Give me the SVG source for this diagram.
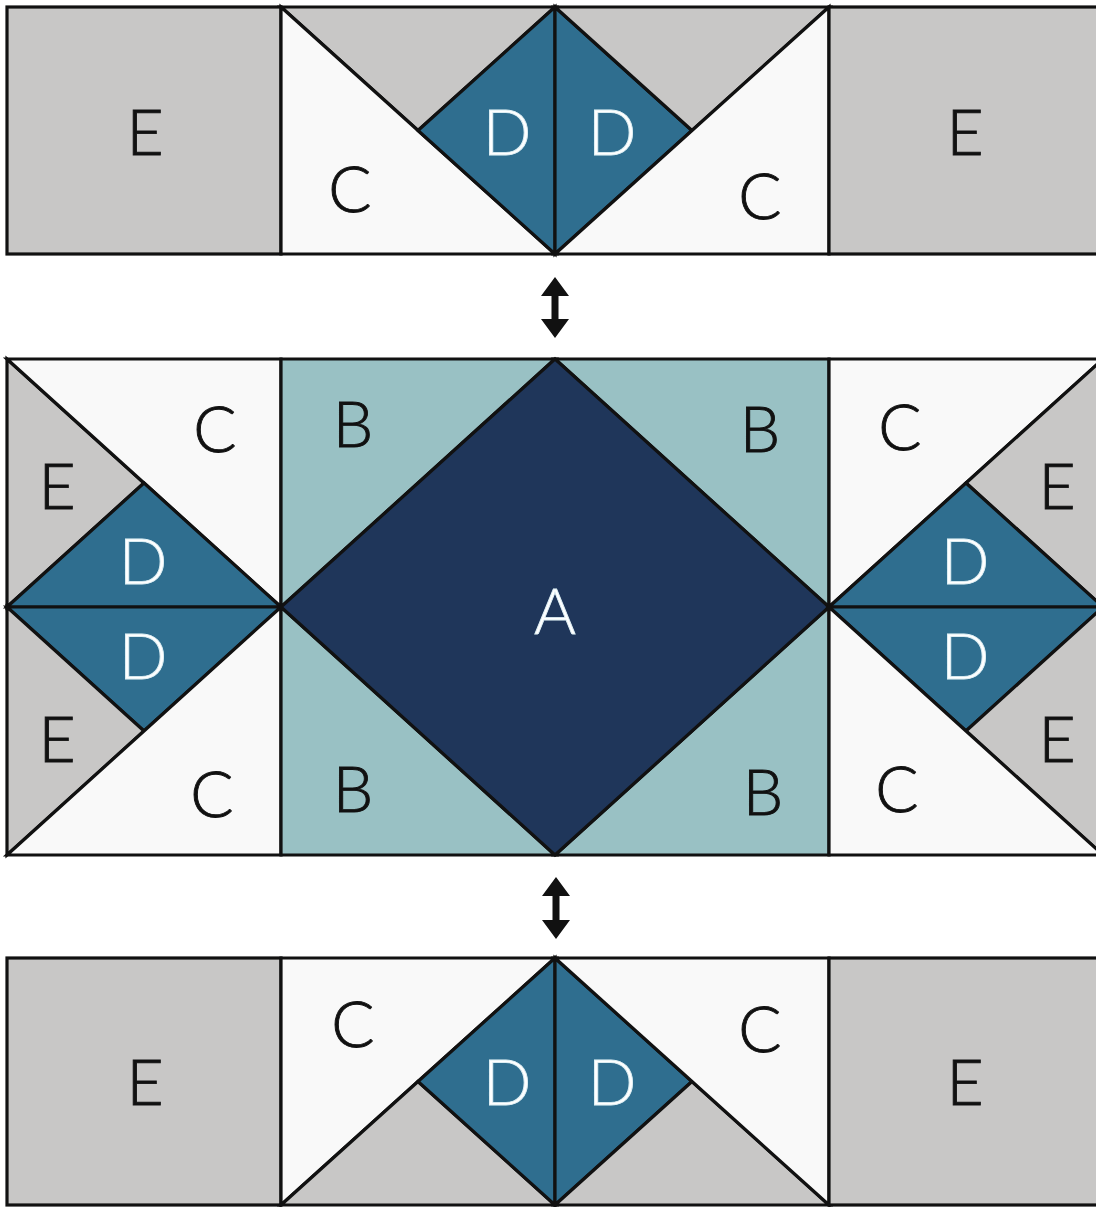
<svg xmlns="http://www.w3.org/2000/svg" width="1096" height="1207" viewBox="0 0 1096 1207">
<style>
.p{stroke:#111;stroke-width:3.2;stroke-linejoin:miter}
.e{fill:#c8c7c6}
.c{fill:#f9f9f9}
.d{fill:#2f6e8f}
.a{fill:#1f365a}
.b{fill:#99c1c4}
text{font-family:"Lato","Liberation Sans",sans-serif;font-size:64px;font-weight:300;text-anchor:middle}
.dk{fill:#111;stroke:#111;stroke-width:0.9}
.lt{fill:#fff;stroke:#dff0f5;stroke-width:0.9}
.arrow{fill:#111}
</style>
<rect width="1096" height="1207" fill="#fff"/>

<!-- TOP ROW -->
<g id="top-E-left"><rect class="p e" x="7" y="7" width="274" height="247"/><text class="dk" x="145" y="155">E</text></g>
<g id="top-gray-left"><polygon class="p e" points="281,7 555,7 418,130.5"/></g>
<g id="top-C-left"><polygon class="p c" points="281,7 418,130.5 555,254 281,254"/><text class="dk" x="350" y="212">C</text></g>
<g id="top-D-left"><polygon class="p d" points="555,7 418,130.5 555,254"/><text class="lt" x="507" y="155">D</text></g>
<g id="top-D-right"><polygon class="p d" points="555,7 692,130.5 555,254"/><text class="lt" x="612" y="155">D</text></g>
<g id="top-gray-right"><polygon class="p e" points="829,7 555,7 692,130.5"/></g>
<g id="top-C-right"><polygon class="p c" points="829,7 692,130.5 555,254 829,254"/><text class="dk" x="760" y="219">C</text></g>
<g id="top-E-right"><rect class="p e" x="829" y="7" width="274" height="247"/><text class="dk" x="965" y="155">E</text></g>

<!-- MIDDLE ROW -->
<g id="mid-E-upper-left"><polygon class="p e" points="7,359 144,483 7,607"/><text class="dk" x="57" y="509">E</text></g>
<g id="mid-C-upper-left"><polygon class="p c" points="7,359 281,359 281,607 144,483"/><text class="dk" x="215" y="452">C</text></g>
<g id="mid-D-upper-left"><polygon class="p d" points="7,607 144,483 281,607"/><text class="lt" x="143" y="584">D</text></g>
<g id="mid-D-lower-left"><polygon class="p d" points="7,607 144,731 281,607"/><text class="lt" x="143" y="679">D</text></g>
<g id="mid-E-lower-left"><polygon class="p e" points="7,855 144,731 7,607"/><text class="dk" x="57" y="762">E</text></g>
<g id="mid-C-lower-left"><polygon class="p c" points="7,855 281,855 281,607 144,731"/><text class="dk" x="212" y="817">C</text></g>

<g id="mid-B-top-left"><polygon class="p b" points="281,359 555,359 281,607"/><text class="dk" x="353" y="447">B</text></g>
<g id="mid-B-top-right"><polygon class="p b" points="555,359 829,359 829,607"/><text class="dk" x="760" y="452">B</text></g>
<g id="mid-B-bottom-left"><polygon class="p b" points="281,607 281,855 555,855"/><text class="dk" x="353" y="812">B</text></g>
<g id="mid-B-bottom-right"><polygon class="p b" points="829,607 829,855 555,855"/><text class="dk" x="763" y="815">B</text></g>
<g id="mid-A"><polygon class="p a" points="555,359 829,607 555,855 281,607"/><text class="lt" x="555" y="634">A</text></g>

<g id="mid-C-upper-right"><polygon class="p c" points="829,359 1103,359 966,483 829,607"/><text class="dk" x="900" y="450">C</text></g>
<g id="mid-E-upper-right"><polygon class="p e" points="1103,359 1103,607 966,483"/><text class="dk" x="1057" y="509">E</text></g>
<g id="mid-D-upper-right"><polygon class="p d" points="829,607 966,483 1103,607"/><text class="lt" x="965" y="584">D</text></g>
<g id="mid-D-lower-right"><polygon class="p d" points="829,607 966,731 1103,607"/><text class="lt" x="965" y="679">D</text></g>
<g id="mid-E-lower-right"><polygon class="p e" points="1103,855 1103,607 966,731"/><text class="dk" x="1057" y="762">E</text></g>
<g id="mid-C-lower-right"><polygon class="p c" points="829,855 1103,855 966,731 829,607"/><text class="dk" x="897" y="812">C</text></g>

<!-- BOTTOM ROW -->
<g id="bot-E-left"><rect class="p e" x="7" y="958" width="274" height="247"/><text class="dk" x="145" y="1105">E</text></g>
<g id="bot-C-left"><polygon class="p c" points="281,958 555,958 418,1081.5 281,1205"/><text class="dk" x="353" y="1047">C</text></g>
<g id="bot-gray-left"><polygon class="p e" points="281,1205 418,1081.5 555,1205"/></g>
<g id="bot-D-left"><polygon class="p d" points="555,958 418,1081.5 555,1205"/><text class="lt" x="507" y="1105">D</text></g>
<g id="bot-D-right"><polygon class="p d" points="555,958 692,1081.5 555,1205"/><text class="lt" x="612" y="1105">D</text></g>
<g id="bot-gray-right"><polygon class="p e" points="829,1205 692,1081.5 555,1205"/></g>
<g id="bot-C-right"><polygon class="p c" points="829,958 555,958 692,1081.5 829,1205"/><text class="dk" x="760" y="1052">C</text></g>
<g id="bot-E-right"><rect class="p e" x="829" y="958" width="274" height="247"/><text class="dk" x="965" y="1105">E</text></g>

<!-- CONNECTORS -->
<g id="connectors">
<path class="arrow" d="M555,277 L569,296 L558.5,296 L558.5,319 L569,319 L555,338 L541,319 L551.5,319 L551.5,296 L541,296 Z"/>
<path class="arrow" d="M556,877 L570,896 L559.5,896 L559.5,920 L570,920 L556,939 L542,920 L552.5,920 L552.5,896 L542,896 Z"/>
</g>
</svg>
